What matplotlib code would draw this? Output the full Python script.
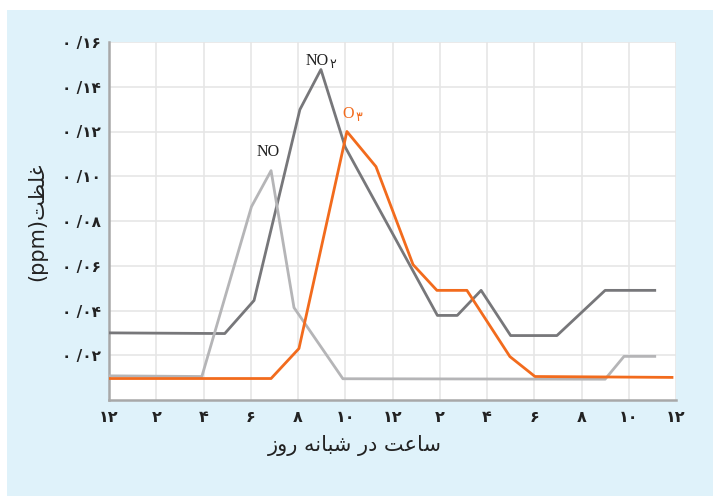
import matplotlib
matplotlib.use("Agg")
import matplotlib.pyplot as plt
from matplotlib.patches import Rectangle

# hours after midnight, concentration in ppm
no2_h = [0, 4.9, 6.14, 8.08, 8.97, 10.0, 13.9, 14.74, 15.75, 17.0, 18.96, 21.0, 23.1]
no2_v = [0.0300, 0.0297, 0.0445, 0.1298, 0.1477, 0.1130, 0.0378, 0.0378, 0.0490, 0.0288, 0.0288, 0.0490, 0.0490]

no_h = [0, 3.93, 6.03, 6.86, 7.83, 9.9, 21.0, 21.8, 23.1]
no_v = [0.0108, 0.0105, 0.0864, 0.1025, 0.0413, 0.0095, 0.0093, 0.0195, 0.0195]

o3_h = [0, 6.86, 8.04, 10.07, 11.3, 12.87, 13.88, 15.15, 16.97, 18.03, 23.83]
o3_v = [0.0096, 0.0096, 0.0230, 0.1200, 0.1043, 0.0605, 0.0490, 0.0490, 0.0194, 0.0105, 0.0101]

fa = str.maketrans("0123456789", "۰۱۲۳۴۵۶۷۸۹")
x_ticks = list(range(0, 25, 2))
x_labels = [str(h % 12 or 12).translate(fa) for h in x_ticks]
y_ticks = [0.02, 0.04, 0.06, 0.08, 0.10, 0.12, 0.14, 0.16]
y_labels = ["۰ /" + f"{v:.2f}"[2:].translate(fa) for v in y_ticks]

# pre-shaped (visual order) Persian strings
xlabel = "\uFEAF\uFEED\uFEAD \uFEEA\uFEE7\uFE8E\uFE92\uFEB7 \uFEAD\uFEA9 \uFE96\uFECB\uFE8E\uFEB3"
ylabel = "(ppm)\uFE96\uFEC8\uFEE0\uFECF"

C_NO2 = "#77777a"
C_NO = "#b5b5b7"
C_O3 = "#f26b1d"

fig = plt.figure(figsize=(7.13, 4.96), dpi=100)
fig.patch.set_facecolor("white")
fig.patches.append(Rectangle((7 / 713, 0), 1, 1 - 10 / 496, transform=fig.transFigure,
                             facecolor="#dff2fa", edgecolor="none", zorder=-10))

ax = fig.add_axes([109 / 713, 96 / 496, 567 / 713, 358 / 496])
ax.set_zorder(1)
ax.set_facecolor("white")

ax.plot(no2_h, no2_v, color=C_NO2, lw=2.0, zorder=3)
ax.plot(o3_h, o3_v, color=C_O3, lw=2.0, zorder=4)
ax.plot(no_h, no_v, color=C_NO, lw=2.0, zorder=3)

ax.set_xlim(0, 24)
ax.set_ylim(0, 0.16)
ax.set_xticks(x_ticks)
ax.set_xticklabels(x_labels, fontsize=11.5, family="DejaVu Sans", fontweight="bold")
ax.set_yticks(y_ticks)
ax.set_yticklabels(y_labels, fontsize=11, family="DejaVu Sans", fontweight="bold")
ax.tick_params(length=0, colors="#222222")
ax.tick_params(axis="y", pad=6)
ax.tick_params(axis="x", pad=7)
ax.grid(True, color="#e6e6e6", lw=1.2)
ax.set_axisbelow(True)
for s in ["top", "right"]:
    ax.spines[s].set_visible(False)
for s in ["left", "bottom"]:
    ax.spines[s].set_color("#a8a8a8")
    ax.spines[s].set_linewidth(1.8)

serif = ["Liberation Serif", "DejaVu Serif"]
ax.text(6.73, 0.111, "NO", family=serif, fontsize=11.5, ha="center", va="center", color="#222222")
ax.text(8.8, 0.1513, "NO", family=serif, fontsize=11.5, ha="center", va="center", color="#222222")
ax.text(9.33, 0.1500, "۲", family="DejaVu Sans", fontsize=9, ha="left", va="center", color="#222222")
ax.text(10.12, 0.1276, "O", family=serif, fontsize=11.5, ha="center", va="center", color=C_O3)
ax.text(10.45, 0.1262, "۳", family="DejaVu Sans", fontsize=9, ha="left", va="center", color=C_O3)

fig.text(355 / 713, 1 - 446 / 496, xlabel, family="DejaVu Sans", fontsize=15,
         ha="center", va="center", color="#222222")
fig.text(37 / 713, 1 - 222 / 496, ylabel, family="DejaVu Sans", fontsize=15,
         ha="center", va="center", rotation=90, color="#222222")

fig.savefig("out.png", dpi=100)
